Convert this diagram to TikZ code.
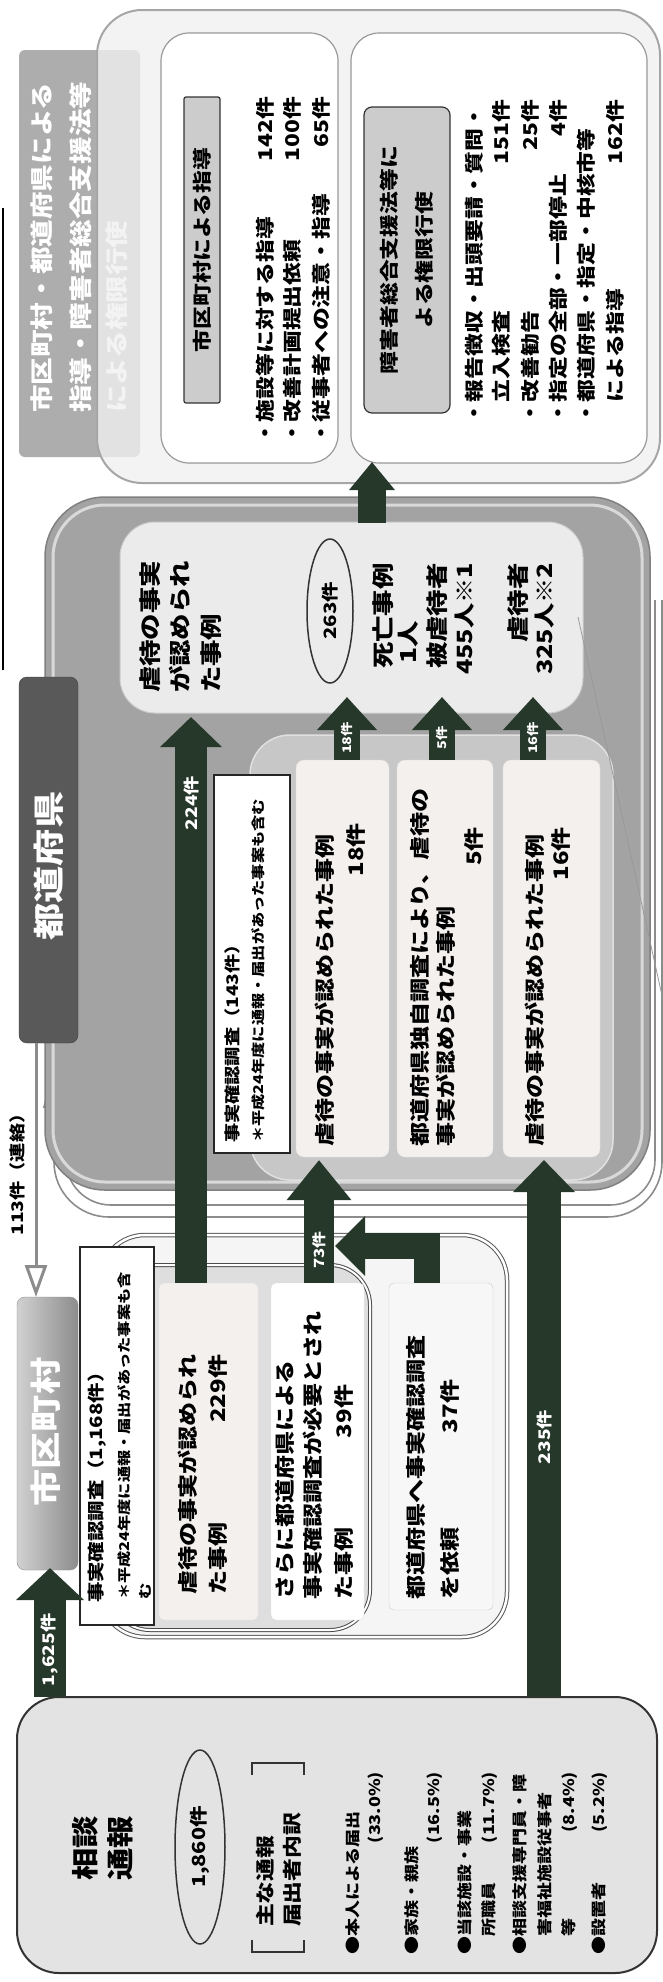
\documentclass[tikz,border=0pt]{standalone}
\usepackage{fontspec}
\setmainfont{Noto Sans CJK JP}[FakeStretch=1.2]
\usetikzlibrary{arrows.meta,shapes.geometric}
\definecolor{arrowc}{RGB}{38,56,42}
\definecolor{pinkish}{RGB}{244,240,238}
\newcommand\fsz[1]{\fontsize{#1pt}{#1pt}\selectfont}
\begin{document}
\begin{tikzpicture}[x=1pt,y=-1pt,
  bx/.style={inner sep=0pt, outer sep=0pt, rounded corners=#1},
  t/.style={rotate=90, inner sep=0pt, font=\bfseries\fsz{#1}},
  wl/.style={rotate=90, inner sep=0pt, text=white, font=\bfseries\fsz{#1}},
  fat/.style={draw=arrowc, line width=#1, line join=miter},
  thin/.style={draw=black!45, line width=#1},
]
\fill[white] (0,0) rectangle (663,1982);
\useasboundingbox (0,0) rectangle (663,1982);

% ---------- left edge rule
\coordinate (bl1) at (3,208); \coordinate (bl2) at (3,670);
\draw[black, line width=2.5pt] (bl1) -- (bl2);

% ---------- top section
\node[bx=6, fill=black!32, minimum width=121pt, minimum height=407pt] (tabTop) at (79.5,253.5) {};
\node[t=23, text=white, anchor=west] (tt1) at (42,413) {市区町村・都道府県による};
\node[t=23, text=white, anchor=west] (tt2) at (81,413) {指導・障害者総合支援法等};
\node[t=23, text=white, anchor=west] (tt3) at (117,413) {による権限行使};
\node[bx=45, draw=black!35, line width=2pt, fill=black!6, fill opacity=0.8, minimum width=563pt, minimum height=473pt] (frameTop) at (378.5,246.5) {};

\node[bx=28, draw=black!40, line width=1.2pt, fill=white, minimum width=177pt, minimum height=430pt] (pA) at (249.5,248) {};
\node[bx=2, draw=black!80, line width=1.2pt, fill=black!20, minimum width=36pt, minimum height=306pt] (lA) at (202,250) {};
\node[t=19] (lAt) at (lA.center) {市区町村による指導};
\node[t=19, anchor=west, text width=348pt, align=left] (a1) at (265,445) {・施設等に対する指導\hfill142件};
\node[t=19, anchor=west, text width=348pt, align=left] (a2) at (292,445) {・改善計画提出依頼\hfill100件};
\node[t=19, anchor=west, text width=348pt, align=left] (a3) at (321,445) {・従事者への注意・指導\hfill65件};

\node[bx=28, draw=black!40, line width=1.2pt, fill=white, minimum width=296pt, minimum height=430pt] (pB) at (499,248) {};
\node[bx=8, draw=black!80, line width=1.2pt, fill=black!20, minimum width=86pt, minimum height=306pt] (lB) at (407,260) {};
\node[rotate=90, inner sep=0pt, align=center, font=\bfseries\fontsize{19pt}{35pt}\selectfont] (lBt) at (lB.center) {障害者総合支援法等に\\よる権限行使};
\node[t=19, anchor=west, text width=325pt, align=left] (b1) at (474,425) {・報告徴収・出頭要請・質問・};
\node[t=19, anchor=west, text width=325pt, align=left] (b2) at (501,425) {　立入検査\hfill151件\hspace*{22pt}};
\node[t=19, anchor=west, text width=325pt, align=left] (b3) at (530,425) {・改善勧告\hfill25件\hspace*{22pt}};
\node[t=19, anchor=west, text width=325pt, align=left] (b4) at (558,425) {・指定の全部・一部停止\hfill4件\hspace*{22pt}};
\node[t=19, anchor=west, text width=325pt, align=left] (b5) at (586,425) {・都道府県・指定・中核市等};
\node[t=19, anchor=west, text width=325pt, align=left] (b6) at (615,425) {　による指導\hfill162件};

% ---------- prefecture section
\draw[thin=1.6pt, rounded corners=45] (655,600) -- (655,1205) -- (66,1205) -- (66,1106);
\draw[thin=1.6pt, rounded corners=55] (662,600) -- (662,1217) -- (54,1217) -- (54,1106);
\coordinate (hA) at (44,1107); \coordinate (hB) at (60,1050); \coordinate (hC) at (76,1107);
\draw[thin=1.6pt, fill=white] (hA) -- (hB) -- (hC) -- cycle;

\node[bx=60, draw=black!50, line width=1.5pt, fill=black!36, minimum width=605pt, minimum height=693pt] (pref) at (347.5,843.5) {};
\node[bx=52, draw=black!15, line width=3pt, minimum width=589pt, minimum height=677pt] (prefRim) at (347.5,843.5) {};
\node[bx=8, draw=black!75, fill=black!65, minimum width=59pt, minimum height=366pt] (prefTab) at (48.5,860) {};
\node[t=31, text=white] (prefTabT) at (49,866) {都道府県};

\node[bx=35, draw=black!20, line width=1pt, fill=black!8, minimum width=463pt, minimum height=191pt] (res) at (351.5,617.5) {};
\node[t=22, anchor=west] (r1) at (150,693) {虐待の事実};
\node[t=22, anchor=west] (r2) at (180,693) {が認められ};
\node[t=22, anchor=west] (r3) at (211,693) {た事例};
\node[draw=black!80, line width=1.5pt, ellipse, rotate=90, minimum width=144pt, minimum height=46pt, inner sep=0pt, font=\bfseries\fsz{17}] (e263) at (330,611) {263件};
\node[t=22, anchor=east] (r4) at (383,563) {死亡事例};
\node[t=22] (r5) at (408,642) {1人};
\node[t=22, anchor=east] (r6) at (437,563) {被虐待者};
\node[t=21, anchor=east] (r7) at (465,563) {455人※1};
\node[t=22, anchor=east] (r8) at (518,563) {虐待者};
\node[t=21, anchor=east] (r9) at (545,563) {325人※2};

\node[bx=40, draw=black!12, line width=1.5pt, fill=black!22, minimum width=363pt, minimum height=445pt] (cont) at (431.5,957.5) {};
\node[bx=8, draw=black!12, fill=pinkish, minimum width=93pt, minimum height=397pt] (s18) at (342.5,958.5) {};
\node[bx=8, draw=black!12, fill=pinkish, minimum width=96pt, minimum height=397pt] (s5) at (445,958.5) {};
\node[bx=8, draw=black!12, fill=pinkish, minimum width=97pt, minimum height=397pt] (s16) at (551.5,958.5) {};
\node[bx=0, draw=black!85, line width=1.2pt, fill=white, minimum width=76pt, minimum height=378pt] (b143) at (252,964) {};
\node[t=16, anchor=west] (c1) at (232,1143) {事実確認調査（143件）};
\node[t=13.5, anchor=west] (c2) at (258,1143) {＊平成24年度に通報・届出があった事案も含む};

\node[t=20, anchor=west] (d1) at (325,1147) {虐待の事実が認められた事例};
\node[t=20, anchor=east] (d2) at (356,823) {18件};
\node[t=20, anchor=west] (d3) at (420,1147) {都道府県独自調査により、虐待の};
\node[t=20, anchor=west] (d4) at (446,1147) {事実が認められた事例};
\node[t=20, anchor=east] (d5) at (474,827) {5件};
\node[t=20, anchor=west] (d6) at (535,1147) {虐待の事実が認められた事例};
\node[t=20, anchor=east] (d7) at (561,827) {16件};

\coordinate (diag1) at (578,617); \coordinate (diag2) at (663,1000);
\draw[black!40, line width=0.8pt] (diag1) -- (diag2);

% ---------- municipality section
\node[bx=8, draw=black!45, left color=black!18, right color=black!45, minimum width=61pt, minimum height=273pt] (cityTab) at (47.5,1433.5) {};
\node[t=31, text=white] (cityTabT) at (46,1432) {市区町村};

\node[bx=45, draw=black!65, double=white, double distance=2.5pt, line width=1pt, fill=black!4, minimum width=407pt, minimum height=402pt] (cOut) at (303.5,1436) {};
\node[bx=40, draw=black!70, double=white, double distance=2pt, line width=1pt, fill=black!13, minimum width=260pt, minimum height=365pt] (cIn) at (240,1447.5) {};
\node[bx=0, draw=black!85, line width=1.2pt, fill=white, minimum width=74pt, minimum height=378pt] (b1168) at (117,1436) {};
\node[bx=5, draw=black!12, fill=pinkish, minimum width=99pt, minimum height=337pt] (p229) at (208.5,1451.5) {};
\node[bx=5, draw=black!12, fill=white, minimum width=93pt, minimum height=337pt] (p39) at (317.5,1451.5) {};
\node[bx=5, draw=black!20, fill=black!3, minimum width=104pt, minimum height=327pt] (p37) at (441,1446.5) {};

\node[t=17, anchor=west] (m1) at (97,1603) {事実確認調査（1,168件）};
\node[t=13.5, anchor=west] (m2) at (124,1600) {＊平成24年度に通報・届出があった事案も含};
\node[t=13.5, anchor=west] (m3) at (145,1600) {む};
\node[t=20, anchor=west] (m4) at (188,1595) {虐待の事実が認められ};
\node[t=20, anchor=west, text width=240pt, align=left] (m5) at (218,1595) {た事例\hfill229件};
\node[t=20, anchor=west] (m6) at (285,1600) {さらに都道府県による};
\node[t=20, anchor=west] (m7) at (313,1600) {事実確認調査が必要とされ};
\node[t=20, anchor=west, text width=215pt, align=left] (m8) at (344,1600) {た事例\hfill39件};
\node[t=20, anchor=west] (m9) at (416,1600) {都道府県へ事実確認調査};
\node[t=20, anchor=west, text width=220pt, align=left] (m10) at (450,1600) {を依頼\hfill37件};

% ---------- consultation box
\node[bx=42, draw=black!80, line width=2pt, fill=black!11, minimum width=640pt, minimum height=276pt] (soudan) at (337,1835) {};
\node[t=27] (st1) at (85,1848) {相談};
\node[t=27] (st2) at (120,1848) {通報};
\node[draw=black!80, line width=1.5pt, ellipse, rotate=90, minimum width=194pt, minimum height=50pt, inner sep=0pt, font=\bfseries\fsz{18}] (e1860) at (200,1847) {1,860件};
\draw[black!80, line width=1.5pt] (252,1940) -- (252,1952) -- (304,1952) -- (304,1940);
\draw[black!80, line width=1.5pt] (252,1775) -- (252,1763) -- (304,1763) -- (304,1775);
\node[t=19, anchor=west] (br1) at (265,1927) {主な通報};
\node[t=19, anchor=west] (br2) at (292,1927) {届出者内訳};
\node[t=15, anchor=west, text width=183pt, align=left] (u1) at (353,1955) {●本人による届出};
\node[t=15, anchor=west, text width=183pt, align=left] (u2) at (376,1955) {\hfill(33.0\%)};
\node[t=15, anchor=west, text width=183pt, align=left] (u3) at (412,1955) {●家族・親族};
\node[t=15, anchor=west, text width=183pt, align=left] (u4) at (435,1955) {\hfill(16.5\%)};
\node[t=15, anchor=west, text width=183pt, align=left] (u5) at (465,1955) {●当該施設・事業};
\node[t=15, anchor=west, text width=183pt, align=left] (u6) at (490,1955) {　所職員\hfill(11.7\%)};
\node[t=15, anchor=west, text width=183pt, align=left] (u7) at (520,1955) {●相談支援専門員・障};
\node[t=15, anchor=west, text width=183pt, align=left] (u8) at (545,1955) {　害福祉施設従事者};
\node[t=15, anchor=west, text width=183pt, align=left] (u9) at (570,1955) {　等\hfill(8.4\%)};
\node[t=15, anchor=west, text width=183pt, align=left] (u10) at (600,1955) {●設置者\hfill(5.2\%)};

% ---------- thin arrow and label 113
\coordinate (d113s) at (36,1043); \coordinate (d113e) at (36,1297);
\draw[thin=3pt, -{Triangle[width=22pt,length=32pt,fill=white]}] (d113s) -- (d113e);
\node[t=16] (l113) at (17,1170) {113件（連絡）};

% ---------- fat arrows
\coordinate (aTs) at (372,523); \coordinate (aTe) at (372,462);
\draw[fat=28pt, -{Triangle[width=44pt,length=28pt]}] (aTs) -- (aTe);

\coordinate (a224s) at (191,1283); \coordinate (a224e) at (191,717);
\draw[fat=32pt, -{Triangle[width=60pt,length=30pt]}] (a224s) -- (a224e);
\node[wl=16] (l224) at (191,803) {224件};

\coordinate (a18s) at (347,760); \coordinate (a18e) at (347,697);
\draw[fat=26pt, -{Triangle[width=58pt,length=33pt]}] (a18s) -- (a18e);
\node[wl=12] (l18) at (347,738) {18件};
\coordinate (a5s) at (442,760); \coordinate (a5e) at (442,697);
\draw[fat=26pt, -{Triangle[width=58pt,length=33pt]}] (a5s) -- (a5e);
\node[wl=12] (l5) at (442,738) {5件};
\coordinate (a16s) at (533,760); \coordinate (a16e) at (533,697);
\draw[fat=26pt, -{Triangle[width=58pt,length=33pt]}] (a16s) -- (a16e);
\node[wl=12] (l16) at (533,738) {16件};

\coordinate (a73s) at (319,1283); \coordinate (a73e) at (319,1160);
\draw[fat=30pt, -{Triangle[width=62pt,length=40pt]}] (a73s) -- (a73e);
\node[wl=14] (l73) at (319,1250) {73件};

\coordinate (a37s) at (427,1283); \coordinate (a37e) at (335,1246);
\draw[fat=26pt, -{Triangle[width=58pt,length=30pt]}] (a37s) |- (a37e);

\coordinate (a235s) at (544,1697); \coordinate (a235e) at (544,1160);
\draw[fat=34pt, -{Triangle[width=60pt,length=32pt]}] (a235s) -- (a235e);
\node[wl=16] (l235) at (544,1437) {235件};

\coordinate (a1625s) at (50,1697); \coordinate (a1625e) at (50,1568);
\draw[fat=32pt, -{Triangle[width=66pt,length=32pt]}] (a1625s) -- (a1625e);
\node[wl=16] (l1625) at (50,1650) {1,625件};
\end{tikzpicture}
\end{document}
